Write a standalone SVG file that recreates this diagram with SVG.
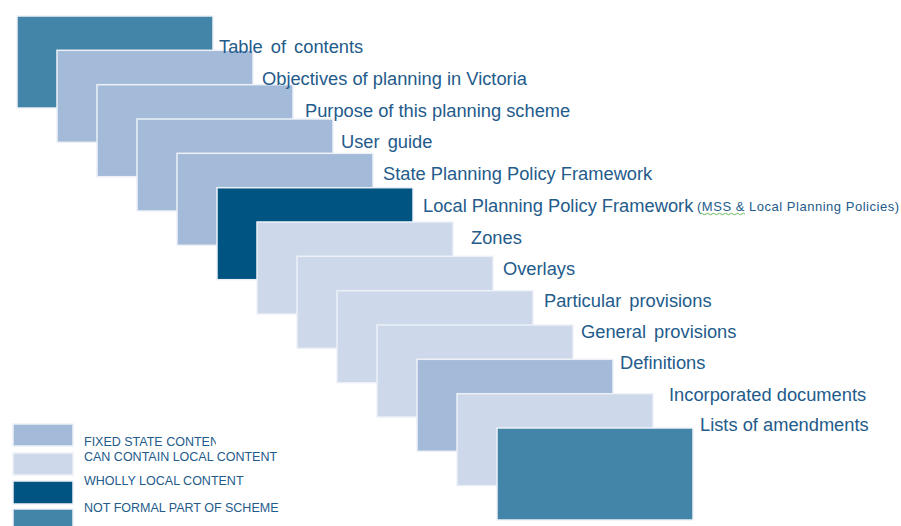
<svg xmlns="http://www.w3.org/2000/svg" width="901" height="526" viewBox="0 0 901 526">
  <style>
    .box { stroke: #edf1f7; stroke-width: 1.5; }
    .fixed { fill: #a3bad9; }
    .local { fill: #cdd8ea; }
    .whole { fill: #005482; }
    .extra { fill: #4285a9; }
    .lbl { font-family: "Liberation Sans", Arial, sans-serif; font-size: 18.3px; fill: #235b8b; }
    .small { font-family: "Liberation Sans", Arial, sans-serif; font-size: 13px; fill: #235b8b; }
    .key { font-family: "Liberation Sans", Arial, sans-serif; font-size: 12.5px; fill: #235b8b; }
  </style>
  <defs>
    <clipPath id="keyClip">
      <rect x="80" y="430" width="136" height="20"/>
    </clipPath>
  </defs>

  <!-- cascading stack of scheme parts -->
  <g id="table-of-contents"><rect class="box extra" x="17" y="16" width="196" height="92"/></g>
  <g id="objectives"><rect class="box fixed" x="57" y="50.3" width="196" height="92"/></g>
  <g id="purpose"><rect class="box fixed" x="97" y="84.7" width="196" height="92"/></g>
  <g id="user-guide"><rect class="box fixed" x="137" y="119" width="196" height="92"/></g>
  <g id="sppf"><rect class="box fixed" x="177" y="153.3" width="196" height="92"/></g>
  <g id="lppf"><rect class="box whole" x="217" y="187.7" width="196" height="92"/></g>
  <g id="zones"><rect class="box local" x="257" y="222" width="196" height="92"/></g>
  <g id="overlays"><rect class="box local" x="297" y="256.3" width="196" height="92"/></g>
  <g id="particular"><rect class="box local" x="337" y="290.7" width="196" height="92"/></g>
  <g id="general"><rect class="box local" x="377" y="325" width="196" height="92"/></g>
  <g id="definitions"><rect class="box fixed" x="417" y="359.3" width="196" height="92"/></g>
  <g id="incorporated"><rect class="box local" x="457" y="393.7" width="196" height="92"/></g>
  <g id="amendments"><rect class="box extra" x="497" y="428" width="196" height="92"/></g>

  <!-- part titles, drawn above the stack -->
  <g id="labels">
    <text class="lbl" x="219" y="53" word-spacing="3">Table of contents</text>
    <text class="lbl" x="262" y="85">Objectives of planning in Victoria</text>
    <text class="lbl" x="305" y="117">Purpose of this planning scheme</text>
    <text class="lbl" x="341" y="148" word-spacing="3">User guide</text>
    <text class="lbl" x="383" y="180">State Planning Policy Framework</text>
    <text class="lbl" x="423" y="212">Local Planning Policy Framework</text>
    <text class="small" x="697" y="211" textLength="202" lengthAdjust="spacing">(MSS &amp; Local Planning Policies)</text>
    <path d="M700 214 q1.5 -1.5 3 0 t3 0 t3 0 t3 0 t3 0 t3 0 t3 0 t3 0 t3 0 t3 0 t3 0 t3 0 t3 0 t3 0 t3 0" fill="none" stroke="#5bb04a" stroke-width="0.9"/>
    <text class="lbl" x="471" y="244">Zones</text>
    <text class="lbl" x="503" y="275">Overlays</text>
    <text class="lbl" x="544" y="307" word-spacing="3">Particular provisions</text>
    <text class="lbl" x="581" y="338" word-spacing="3">General provisions</text>
    <text class="lbl" x="620" y="369">Definitions</text>
    <text class="lbl" x="669" y="401">Incorporated documents</text>
    <text class="lbl" x="700" y="431">Lists of amendments</text>
  </g>

  <!-- colour key -->
  <g id="legend">
    <rect class="box fixed" x="13" y="424" width="60" height="22"/>
    <rect class="box local" x="13" y="453" width="60" height="22"/>
    <rect class="box whole" x="13" y="481" width="60" height="23"/>
    <rect class="box extra" x="13" y="509" width="60" height="20"/>
    <text class="key" x="84" y="446" clip-path="url(#keyClip)">FIXED STATE CONTENT</text>
    <text class="key" x="84" y="461">CAN CONTAIN LOCAL CONTENT</text>
    <text class="key" x="84" y="485">WHOLLY LOCAL CONTENT</text>
    <text class="key" x="84" y="512">NOT FORMAL PART OF SCHEME</text>
  </g>
</svg>
